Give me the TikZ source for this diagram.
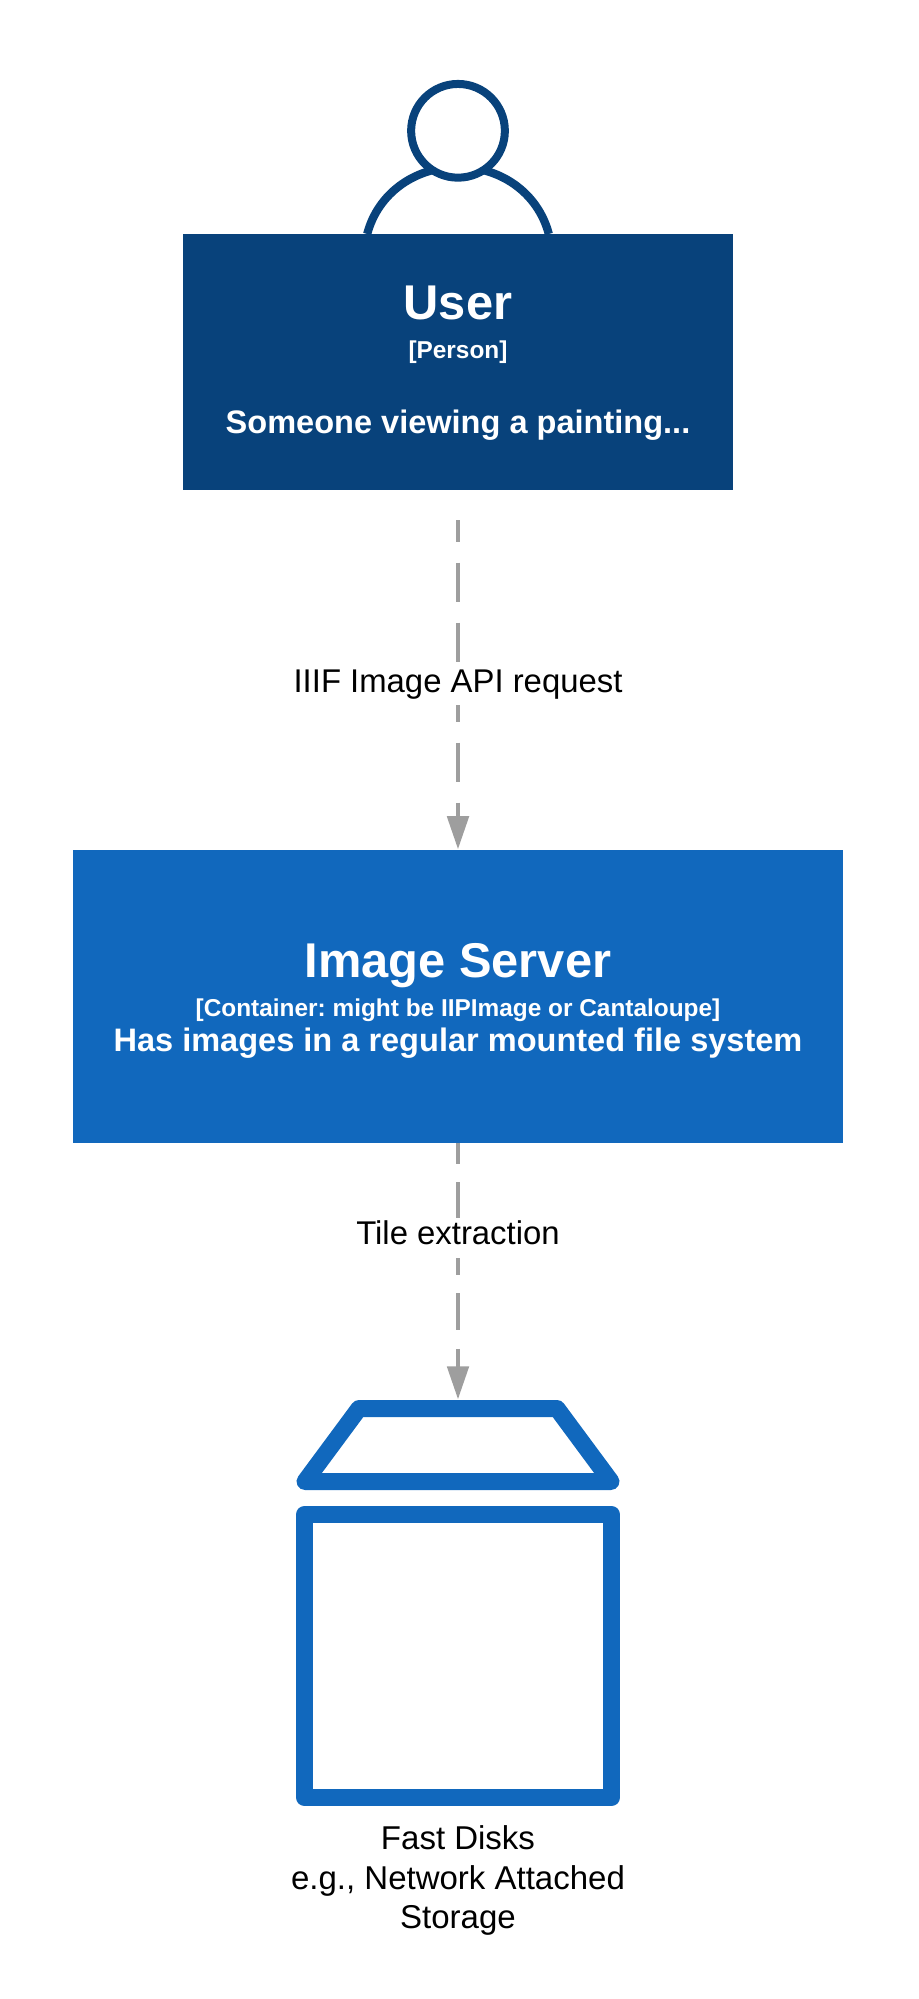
\documentclass[tikz,border=0pt]{standalone}
\usepackage{fontspec}
\setmainfont{Liberation Sans}
\usetikzlibrary{arrows.meta}
\definecolor{personblue}{HTML}{08427B}
\definecolor{containerblue}{HTML}{1168BD}
\definecolor{relgray}{HTML}{9E9E9E}
\newcommand{\fs}[1]{\fontsize{#1}{#1}\selectfont}
\frenchspacing
\begin{document}
\begin{tikzpicture}[x=0.75pt,y=0.75pt,yscale=-1,xscale=1,
	boxtext/.style={anchor=base,inner sep=0pt,text=white},
	reltext/.style={anchor=base,inner sep=0pt,font=\fs{24.65},fill=white,text height=19.5pt,text depth=10pt},
	plaintext/.style={anchor=base,inner sep=0pt,font=\fs{24.75}},
	rel/.style={draw=relgray,line width=3pt,-{Triangle[length=24.75pt,width=16pt,fill=relgray]}},
	iconline/.style={draw=containerblue,line width=12.75pt,line join=round}]
	\useasboundingbox (0,0) rectangle (918,1999);

	%Shape: Person body
	\draw [personblue,line width=6.2pt,fill=white] (367.2,234) .. controls (378,193) and (415,167) .. (458,167) .. controls (501,167) and (538,193) .. (548.8,234);
	%Shape: Person head
	\draw (458,130.8) node (userhead) [circle,draw=personblue,fill=white,line width=6pt,minimum size=70.3pt,inner sep=0pt] {};
	%Shape: Person box
	\draw (458,361.85) node (user) [rectangle,fill=personblue,minimum width=413pt,minimum height=192.2pt,inner sep=0pt] {};
	%Shape: Container box
	\draw (458,996.1) node (server) [rectangle,fill=containerblue,minimum width=577.7pt,minimum height=219.9pt,inner sep=0pt] {};

	%Shape: Disks lid
	\draw [iconline,fill=white] (359,1408.5) -- (557,1408.5) -- (611,1481.5) -- (305,1481.5) -- cycle;
	%Shape: Disks body
	\draw [iconline,fill=white] (304.5,1514.5) rectangle (611.5,1797.5);
	\coordinate (disktop) at (458,1399.3);
	\coordinate (usergap) at (458,520);

	%Straight Lines
	\draw [rel,dash pattern=on 29.25pt off 15.75pt,dash phase=13pt] (usergap) -- (server.north);
	%Straight Lines
	\draw [rel,dash pattern=on 27.75pt off 13.9pt,dash phase=12.2pt] (server.south) -- (disktop);

	% Text Node
	\draw (458,319) node (usertitle) [boxtext,font=\bfseries\fs{36.6}] {User};
	% Text Node
	\draw (458,358) node (usertype) [boxtext,font=\bfseries\fs{18.3}] {[Person]};
	% Text Node
	\draw (458,433) node (userdesc) [boxtext,font=\bfseries\fs{24.4}] {Someone viewing a painting...};
	% Text Node
	\draw (458,977) node (servertitle) [boxtext,font=\bfseries\fs{36.6}] {Image Server};
	% Text Node
	\draw (458,1016) node (servertype) [boxtext,font=\bfseries\fs{18.3}] {[Container: might be IIPImage or Cantaloupe]};
	% Text Node
	\draw (458,1051) node (serverdesc) [boxtext,font=\bfseries\fs{24.4}] {Has images in a regular mounted file system};
	% Text Node
	\draw (458,692) node (rellabel) [reltext] {IIIF Image API request};
	% Text Node
	\draw (458,1244.3) node (tilelabel) [reltext] {Tile extraction};
	% Text Node
	\draw (458,1849) node (diskname) [plaintext] {Fast Disks};
	% Text Node
	\draw (458,1889) node (diskdesc) [plaintext] {e.g., Network Attached};
	% Text Node
	\draw (458,1928) node (diskmore) [plaintext] {Storage};

\end{tikzpicture}
\end{document}
